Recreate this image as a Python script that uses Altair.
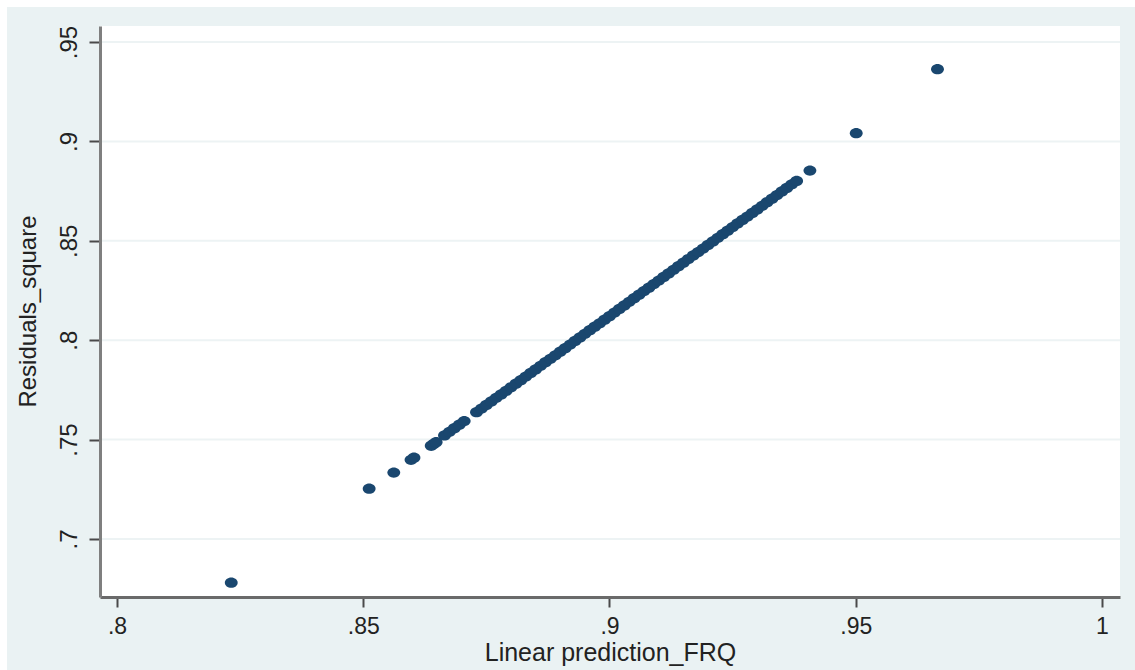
import altair as alt
import pandas as pd

# ---- data ----
x_vals = [0.8232, 0.8512, 0.8562, 0.8597, 0.8603, 0.8638, 0.8643, 0.8648,
          0.8665, 0.8675, 0.8685, 0.8695, 0.8705,
          0.873, 0.874, 0.875, 0.876, 0.877, 0.878, 0.879, 0.880, 0.881, 0.882,
          0.883, 0.884, 0.885, 0.886, 0.887, 0.888, 0.889, 0.890, 0.891, 0.892,
          0.893, 0.894, 0.895, 0.896, 0.897, 0.898, 0.899, 0.900, 0.901, 0.902,
          0.903, 0.904, 0.905, 0.906, 0.907, 0.908, 0.909, 0.910, 0.911, 0.912,
          0.913, 0.914, 0.915, 0.916, 0.917, 0.918, 0.919, 0.920, 0.921, 0.922,
          0.923, 0.924, 0.925, 0.926, 0.927, 0.928, 0.929, 0.930, 0.931, 0.932,
          0.933, 0.934, 0.935, 0.936, 0.937, 0.938,
          0.9407, 0.9501, 0.9666]
y_vals = [0.6780, 0.7253, 0.7334, 0.7398, 0.7409, 0.7469, 0.7478, 0.7487,
          0.7521, 0.7539, 0.7557, 0.7575, 0.7593,
          0.7638, 0.7656, 0.7674, 0.7692, 0.7710, 0.7727, 0.7745, 0.7763, 0.7781, 0.7799,
          0.7817, 0.7835, 0.7853, 0.7871, 0.7889, 0.7906, 0.7924, 0.7942, 0.7960, 0.7978,
          0.7996, 0.8014, 0.8032, 0.8050, 0.8068, 0.8085, 0.8103, 0.8121, 0.8139, 0.8157,
          0.8175, 0.8193, 0.8211, 0.8229, 0.8247, 0.8264, 0.8282, 0.8300, 0.8318, 0.8336,
          0.8354, 0.8372, 0.8390, 0.8408, 0.8426, 0.8443, 0.8461, 0.8479, 0.8497, 0.8515,
          0.8533, 0.8551, 0.8569, 0.8587, 0.8605, 0.8622, 0.8640, 0.8658, 0.8676, 0.8694,
          0.8712, 0.8730, 0.8748, 0.8766, 0.8784, 0.8801,
          0.8853, 0.9041, 0.9363]

x_ticks = [0.8, 0.85, 0.9, 0.95, 1.0]
x_tick_labels = [".8", ".85", ".9", ".95", "1"]
y_ticks = [0.7, 0.75, 0.8, 0.85, 0.9, 0.95]
y_tick_labels = [".7", ".75", ".8", ".85", ".9", ".95"]

x_title = "Linear prediction_FRQ"
y_title = "Residuals_square"

W, H = 1020, 571
FONT = "Liberation Sans"
NAVY = "#1A476F"
BLUISH = "#EAF2F3"
ELLIPSE = "M-1,0 A1,0.8 0 1,0 1,0 A1,0.8 0 1,0 -1,0 Z"


def label_expr(ticks, labels):
    expr = "''"
    for v, l in reversed(list(zip(ticks, labels))):
        expr = f"abs(datum.value - {v}) < 1e-9 ? '{l}' : ({expr})"
    return expr


points = pd.DataFrame({"x": x_vals, "y": y_vals})
grid = pd.DataFrame({"y": y_ticks})

xscale = alt.Scale(domain=[0.79655, 1.00366], nice=False, zero=False)
yscale = alt.Scale(domain=[0.67082, 0.95804], nice=False, zero=False)

x_axis = alt.Axis(
    values=x_ticks, labelExpr=label_expr(x_ticks, x_tick_labels),
    title=x_title, grid=False, zindex=1,
    domainColor="#6a6a6a", domainWidth=3,
    tickColor="#4a4a4a", tickWidth=2, tickSize=10,
    labelFont=FONT, labelFontSize=23, labelColor="#222222",
    labelBaseline="alphabetic", labelPadding=26,
    labelFlush=False, labelOverlap=False,
    titleFont=FONT, titleFontSize=25, titleFontWeight="normal", titleColor="#222222",
    titleBaseline="alphabetic", titleY=63,
)
y_axis = alt.Axis(
    values=y_ticks, labelExpr=label_expr(y_ticks, y_tick_labels),
    title=y_title, grid=False, zindex=1,
    domainColor="#7f7f7f", domainWidth=3,
    tickColor="#4a4a4a", tickWidth=2, tickSize=11,
    labelFont=FONT, labelFontSize=24, labelColor="#222222",
    labelAngle=270, labelAlign="center", labelBaseline="alphabetic", labelPadding=13,
    labelFlush=False, labelOverlap=False,
    titleFont=FONT, titleFontSize=24, titleFontWeight="normal", titleColor="#222222",
    titleAngle=270, titleAlign="center", titleBaseline="middle", titleX=-72, titleY=285,
)

bg = alt.Chart(alt.Data(values=[{}])).mark_rect(color=BLUISH).encode(
    x=alt.value(-93), x2=alt.value(W + 15), y=alt.value(-19), y2=alt.value(H + 73)
)
plotbg = alt.Chart(alt.Data(values=[{}])).mark_rect(color="white").encode(
    x=alt.value(0), x2=alt.value(W), y=alt.value(0), y2=alt.value(H)
)
gridlines = alt.Chart(grid).mark_rule(color="#EDF3F4", strokeWidth=2).encode(
    y=alt.Y("y:Q", scale=yscale, axis=y_axis)
)
pts = alt.Chart(points).mark_point(
    filled=True, shape=ELLIPSE, size=165, color=NAVY, opacity=1, strokeWidth=0
).encode(
    x=alt.X("x:Q", scale=xscale, axis=x_axis),
    y=alt.Y("y:Q", scale=yscale, axis=y_axis),
)

chart = alt.layer(bg, plotbg, gridlines, pts).properties(
    width=W, height=H, background="white",
    padding={"left": 100, "top": 26, "right": 15, "bottom": 73},
    autosize=alt.AutoSizeParams(type="none"),
).configure_view(strokeWidth=0)

chart.save("out.html", embed_options={"renderer": "svg", "actions": False})
